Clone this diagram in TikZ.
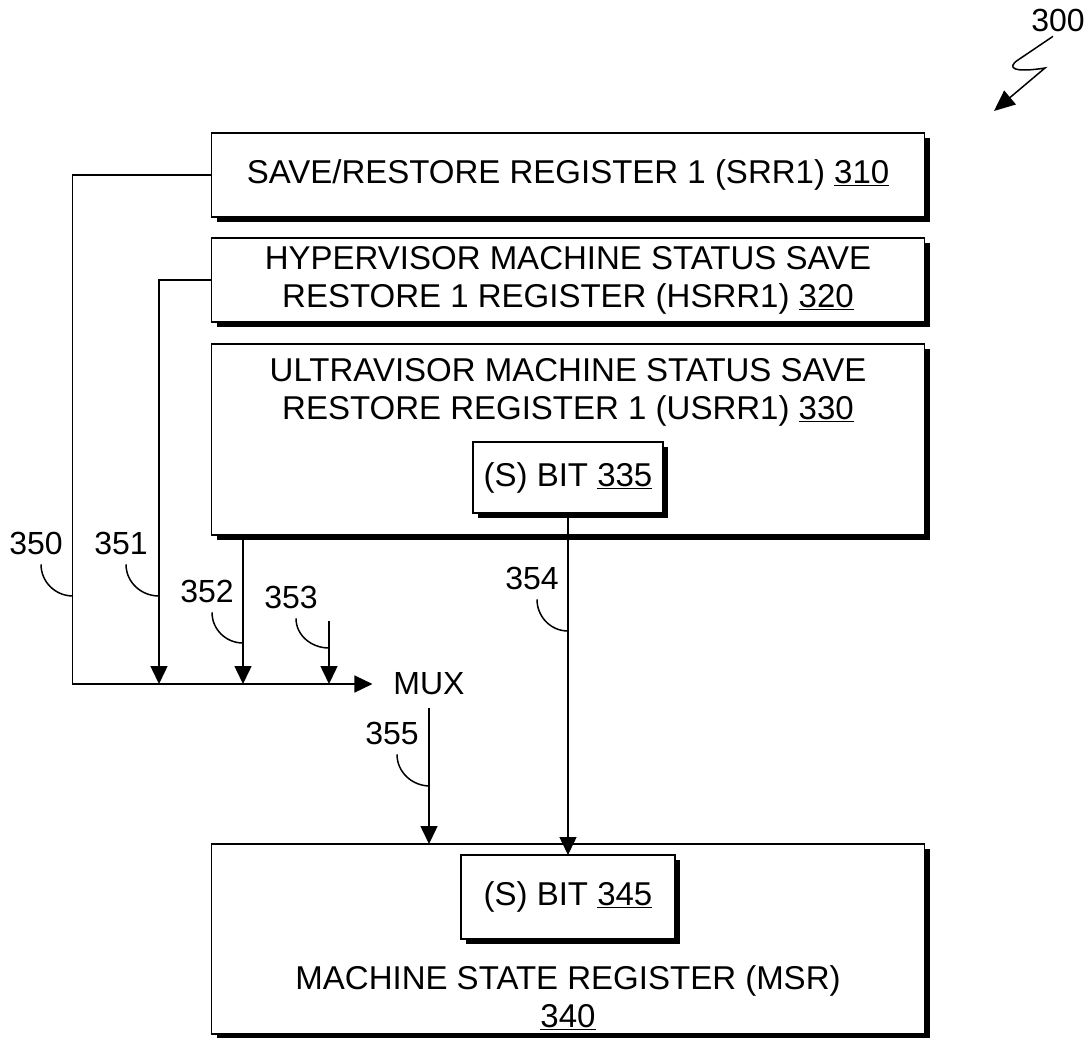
\documentclass[tikz,border=0pt]{standalone}
\usepackage{fontspec}
\setmainfont{Liberation Sans}
\usetikzlibrary{positioning,shadows,arrows.meta}

\begin{document}
\begin{tikzpicture}[x=1pt,y=-1pt,
  every node/.style={align=center,inner sep=0pt,outer sep=0pt,
    font=\fontsize{33}{38}\selectfont},
  reg/.style={draw,line width=1.5pt,fill=white,minimum width=713pt,
    drop shadow={shadow xshift=5pt,shadow yshift=-5pt,fill=black,opacity=1}},
  bit/.style={reg,minimum width=190pt,minimum height=71pt},
  num/.style={font=\fontsize{32}{36}\selectfont},
  link/.style={line width=1.5pt},
  arr/.style={link,-{Triangle[length=18pt,width=17pt]}},
  node distance=21pt
]
  \useasboundingbox (0,0) rectangle (1092,1038);

  \node[reg,minimum height=84pt] (srr) at (568,175)
    {SAVE/RESTORE REGISTER 1 (SRR1) \underline{310}};
  \node[reg,minimum height=84pt,below=of srr] (hsrr)
    {HYPERVISOR MACHINE STATUS SAVE\\RESTORE 1 REGISTER (HSRR1) \underline{320}};
  \node[reg,minimum height=191pt,below=22pt of hsrr] (usrr) {};
  \node (usrrtext) at ([yshift=-48pt]usrr.north)
    {ULTRAVISOR MACHINE STATUS SAVE\\RESTORE REGISTER 1 (USRR1) \underline{330}};
  \node[bit,below=98pt of usrr.north] (bit335) {(S) BIT \underline{335}};

  \node[reg,minimum height=190pt,below=309pt of usrr] (msr) {};
  \node[bit,minimum width=214pt,minimum height=84pt,below=11pt of msr.north] (bit345)
    {(S) BIT \underline{345}};
  \node (msrtext) at ([yshift=36pt]msr.south)
    {MACHINE STATE REGISTER (MSR)\\\underline{340}};

  \node[num,minimum height=48pt,inner xsep=21pt] (mux) at (429,684) {MUX};
  \coordinate (j1) at (159,684);
  \coordinate (j2) at (243,684);
  \coordinate (j3) at (329,684);
  \coordinate (s353) at (329,621);

  \draw[arr] (srr.west) -- ++(-139,0) |- (mux.west);
  \draw[arr] (hsrr.west) -| (j1);
  \draw[arr] (usrr.south -| j2) -- (j2);
  \draw[arr] (s353) -- (j3);
  \draw[arr] (bit335.south) -- (bit335.south |- bit345.north);
  \draw[arr] (mux.south) -- (mux.south |- msr.north);

  \foreach \n/\p/\q in {350/{36,543}/{73,596},351/{121,543}/{159,596},
      352/{207,591}/{243,643},353/{291,597}/{329,648},
      354/{532,578}/{568,631},355/{392,733}/{430,786}}{
    \node[num] (l\n) at (\p) {\n};
    \coordinate (p\n) at (\q);
    \draw[link] ([xshift=5pt,yshift=-10pt]l\n.south) to[out=-90,in=180] (p\n);
  }

  \node[num] (l300) at (1058,20) {300};
  \draw[link,-{Triangle[length=21pt,width=18pt]}] ([xshift=-5pt,yshift=-5pt]l300.south)
    -- (1018,60) .. controls (1006,68) and (1014,73) .. (1045,68) -- (994,111);
\end{tikzpicture}
\end{document}
